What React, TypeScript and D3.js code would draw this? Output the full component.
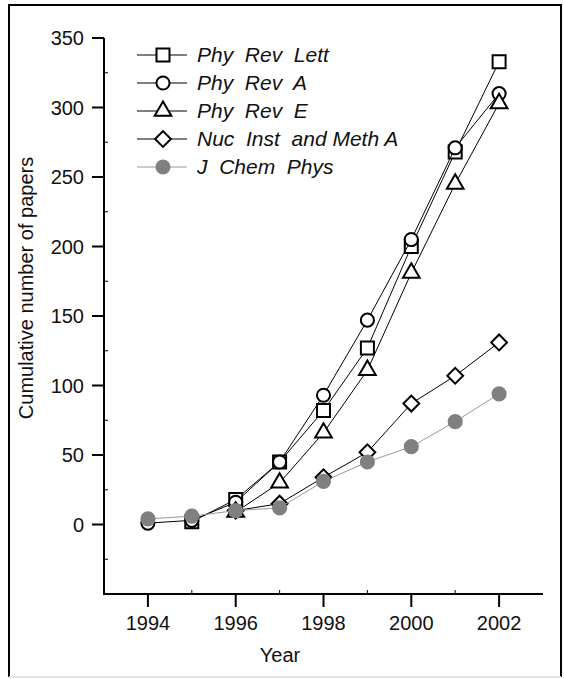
import { useEffect, useRef } from 'react';
import * as d3 from 'd3';

const years = [1994, 1995, 1996, 1997, 1998, 1999, 2000, 2001, 2002];
const phyRevLett = [null, 2, 18, 45, 82, 127, 200, 268, 333];
const phyRevA = [1, 3, 16, 45, 93, 147, 205, 271, 310];
const phyRevE = [null, null, 9, 30, 66, 111, 181, 245, 303];
const nucInstMethA = [null, null, 10, 15, 34, 52, 87, 107, 131];
const jChemPhys = [4, 6, 10, 12, 31, 45, 56, 74, 94];
const seriesNames = ['Phy  Rev  Lett', 'Phy  Rev  A', 'Phy  Rev  E', 'Nuc  Inst  and Meth A', 'J  Chem  Phys'];
const yTicks = [0, 50, 100, 150, 200, 250, 300, 350];
const yMinorTicks = [-25, 25, 75, 125, 175, 225, 275, 325];
const xTicks = [1994, 1996, 1998, 2000, 2002];
const xMinorTicks = [1995, 1997, 1999, 2001];

const FONT = '"Liberation Sans", Arial, Helvetica, sans-serif';

const buildChart = (node: SVGSVGElement) => {
  const svg = d3.select(node);
  svg.selectAll('*').remove();

  const x = d3.scaleLinear().domain([1993, 2003]).range([104, 543]);
  const y = d3.scaleLinear().domain([-50, 350]).range([594, 38]);

  // outer frame
  svg.append('path')
    .attr('d', 'M9,677 L9,5 L561,5 L561,677')
    .attr('fill', 'none').attr('stroke', 'black').attr('stroke-width', 2);
  svg.append('line')
    .attr('x1', 9).attr('x2', 561).attr('y1', 677).attr('y2', 677)
    .attr('stroke', '#e4e4e4').attr('stroke-width', 2);

  // axes
  const ax = svg.append('g').attr('stroke', 'black').attr('stroke-width', 2);
  ax.append('path').attr('fill', 'none')
    .attr('d', `M${x(1993)},${y(350)} L${x(1993)},${y(-50)} L${x(2003)},${y(-50)}`);
  ax.selectAll('.ytick').data(yTicks).enter().append('line')
    .attr('x1', x(1993) - 12).attr('x2', x(1993))
    .attr('y1', (d) => y(d)).attr('y2', (d) => y(d));
  ax.selectAll('.yminor').data(yMinorTicks).enter().append('line')
    .attr('stroke-width', 1)
    .attr('x1', x(1993)).attr('x2', x(1993) + 4)
    .attr('y1', (d) => y(d)).attr('y2', (d) => y(d));
  ax.selectAll('.xtick').data(xTicks).enter().append('line')
    .attr('x1', (d) => x(d)).attr('x2', (d) => x(d))
    .attr('y1', y(-50)).attr('y2', y(-50) + 13);
  ax.selectAll('.xminor').data(xMinorTicks).enter().append('line')
    .attr('stroke-width', 1)
    .attr('x1', (d) => x(d)).attr('x2', (d) => x(d))
    .attr('y1', y(-50)).attr('y2', y(-50) - 4);

  const txt = svg.append('g').attr('font-family', FONT).attr('font-size', 20).attr('fill', '#111');
  txt.selectAll('.ylab').data(yTicks).enter().append('text')
    .attr('x', 84).attr('y', (d) => y(d)).attr('dy', '0.35em')
    .attr('text-anchor', 'end').text((d) => d);
  txt.selectAll('.xlab').data(xTicks).enter().append('text')
    .attr('x', (d) => x(d)).attr('y', 630)
    .attr('text-anchor', 'middle').text((d) => d);
  txt.append('text').attr('x', 280).attr('y', 662).attr('text-anchor', 'middle').text('Year');
  txt.append('text')
    .attr('transform', 'translate(33,288) rotate(-90)')
    .attr('text-anchor', 'middle').text('Cumulative number of papers');

  const series = [
    { name: seriesNames[0], values: phyRevLett, shape: d3.symbolSquare, size: 169, rot: 0, fill: 'white', stroke: 'black', line: 'black' },
    { name: seriesNames[1], values: phyRevA, shape: d3.symbolCircle, size: 135, rot: 0, fill: 'white', stroke: 'black', line: 'black' },
    { name: seriesNames[2], values: phyRevE, shape: d3.symbolTriangle, size: 120, rot: 0, fill: 'white', stroke: 'black', line: 'black' },
    { name: seriesNames[3], values: nucInstMethA, shape: d3.symbolSquare, size: 125, rot: 45, fill: 'white', stroke: 'black', line: 'black' },
    { name: seriesNames[4], values: jChemPhys, shape: d3.symbolCircle, size: 180, rot: 0, fill: '#808080', stroke: 'none', line: '#999999' },
  ];

  const line = d3.line<[number, number | null]>()
    .defined((d) => d[1] != null)
    .x((d) => x(d[0]))
    .y((d) => y(d[1] as number));

  series.forEach((s) => {
    const pts = years.map((yr, i) => [yr, s.values[i]] as [number, number | null]);
    const g = svg.append('g');
    g.append('path').attr('d', line(pts)).attr('fill', 'none')
      .attr('stroke', s.line).attr('stroke-width', 1);
    g.selectAll('path.m').data(pts.filter((p) => p[1] != null)).enter().append('path')
      .attr('class', 'm')
      .attr('d', d3.symbol(s.shape, s.size))
      .attr('transform', (p) => `translate(${x(p[0])},${y(p[1] as number)}) rotate(${s.rot})`)
      .attr('fill', s.fill).attr('stroke', s.stroke).attr('stroke-width', 2);
  });

  // legend
  const leg = svg.append('g');
  series.forEach((s, i) => {
    const ly = 55 + i * 28;
    leg.append('line').attr('x1', 137).attr('x2', 187).attr('y1', ly).attr('y2', ly)
      .attr('stroke', s.line).attr('stroke-width', 1);
    leg.append('path').attr('d', d3.symbol(s.shape, s.size))
      .attr('transform', `translate(163,${ly}) rotate(${s.rot})`)
      .attr('fill', s.fill).attr('stroke', s.stroke).attr('stroke-width', 2);
    leg.append('text').attr('x', 197).attr('y', ly).attr('dy', '0.35em')
      .attr('font-family', FONT).attr('font-size', 21).attr('font-style', 'italic')
      .attr('fill', '#111').style('white-space', 'pre').text(s.name);
  });
};

const App = () => {
  const ref = useRef<SVGSVGElement>(null);
  useEffect(() => {
    if (ref.current) buildChart(ref.current);
  }, []);
  return (
    <svg ref={ref} width={564} height={679}
      style={{ position: 'absolute', left: 0, top: 0, background: 'white' }} />
  );
};

export default App;
